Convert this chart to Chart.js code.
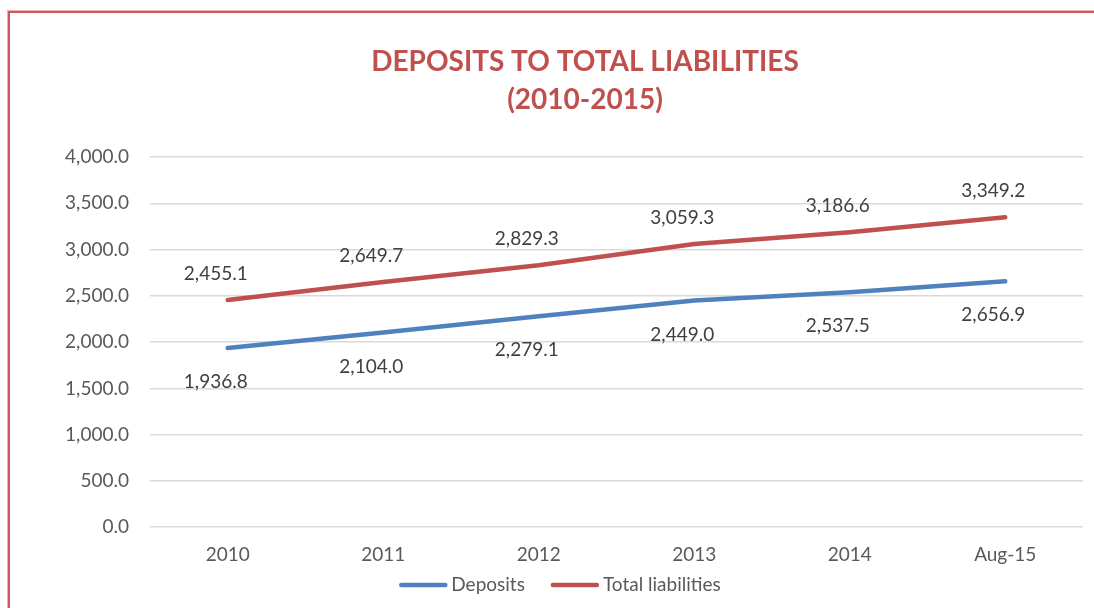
<!DOCTYPE html>
<html lang="en">
<head>
  <meta charset="UTF-8">
  <title>Deposits to Total Liabilities</title>
  <script src="https://cdn.jsdelivr.net/npm/chart.js"></script>
  <style>
    html, body {
      margin: 0;
      padding: 0;
      background: #ffffff;
      overflow: hidden;
    }

    .frame {
      position: absolute;
      left: 8px;
      top: 11px;
      width: 1200px;
      height: 700px;
      border-left: 2px solid #d0585a;
      border-top: 2px solid #d0585a;
      box-shadow: -1px -1px 0 #f0b0b0;
    }

    .wrap {
      position: absolute;
      left: 0;
      top: 0;
      width: 1094px;
      height: 608px;
    }
  </style>
</head>
<body>
  <div class="frame"></div>
  <div class="wrap">
    <canvas id="depositsChart" width="1094" height="608"></canvas>
  </div>

  <script>
    const years = ['2010', '2011', '2012', '2013', '2014', 'Aug-15'];
    const deposits = [1936.8, 2104.0, 2279.1, 2449.0, 2537.5, 2656.9];
    const totalLiabilities = [2455.1, 2649.7, 2829.3, 3059.3, 3186.6, 3349.2];
    const titleLines = ['DEPOSITS TO TOTAL LIABILITIES', '(2010-2015)'];

    const fmt = v => v.toLocaleString('en-US', { minimumFractionDigits: 1, maximumFractionDigits: 1 });

    // two-line heading, sits a bit left of the canvas centre
    const heading = {
      id: 'heading',
      afterDraw(chart) {
        const ctx = chart.ctx;
        ctx.save();
        ctx.font = 'bold 28px Lato';
        ctx.fillStyle = '#c0504d';
        ctx.textAlign = 'center';
        ctx.textBaseline = 'middle';
        titleLines.forEach((t, i) => ctx.fillText(t, 585, 62 + i * 38));
        ctx.restore();
      }
    };

    // legend row under the axis: short thick line + series name
    const lineLegend = {
      id: 'lineLegend',
      afterDraw(chart) {
        const ctx = chart.ctx;
        const sample = 48, gapText = 4, gapItem = 26, y = 585;
        ctx.save();
        ctx.font = '19px Lato';
        ctx.textBaseline = 'middle';
        const items = chart.data.datasets.map(ds => ({
          ds, w: ctx.measureText(ds.label).width
        }));
        const total = items.reduce((s, it) => s + sample + gapText + it.w, 0) + gapItem * (items.length - 1);
        let x = 560 - total / 2;
        items.forEach(({ ds, w }) => {
          ctx.strokeStyle = ds.borderColor;
          ctx.lineWidth = 4.5;
          ctx.lineCap = 'round';
          ctx.beginPath();
          ctx.moveTo(x + 2, y);
          ctx.lineTo(x + sample - 2, y);
          ctx.stroke();
          ctx.fillStyle = '#595959';
          ctx.fillText(ds.label, x + sample + gapText, y);
          x += sample + gapText + w + gapItem;
        });
        ctx.restore();
      }
    };

    // value labels: deposits below the line, liabilities above
    const pointLabels = {
      id: 'pointLabels',
      afterDatasetsDraw(chart) {
        const ctx = chart.ctx;
        ctx.save();
        ctx.font = '19px Lato';
        ctx.fillStyle = '#404040';
        ctx.textAlign = 'center';
        ctx.textBaseline = 'middle';
        chart.data.datasets.forEach((ds, i) => {
          const meta = chart.getDatasetMeta(i);
          meta.data.forEach((pt, j) => {
            ctx.fillText(fmt(ds.data[j]), pt.x - 12, pt.y + ds.labelOffset);
          });
        });
        ctx.restore();
      }
    };

    const ctx = document.getElementById('depositsChart').getContext('2d');
    new Chart(ctx, {
      type: 'line',
      data: {
        labels: years,
        datasets: [
          {
            label: 'Deposits',
            data: deposits,
            borderColor: '#4f81bd',
            backgroundColor: '#4f81bd',
            borderWidth: 4.5,
            borderCapStyle: 'round',
            pointRadius: 0,
            labelOffset: 34
          },
          {
            label: 'Total liabilities',
            data: totalLiabilities,
            borderColor: '#c0504d',
            backgroundColor: '#c0504d',
            borderWidth: 4.5,
            borderCapStyle: 'round',
            pointRadius: 0,
            labelOffset: -26
          }
        ]
      },
      options: {
        responsive: false,
        animation: false,
        layout: {
          padding: { left: 10, right: 11, top: 157, bottom: 34 }
        },
        plugins: {
          title: { display: false },
          legend: { display: false },
          tooltip: { enabled: false }
        },
        scales: {
          x: {
            offset: true,
            grid: { display: false },
            border: { display: false },
            ticks: {
              color: '#595959',
              font: { family: 'Lato', size: 19 },
              padding: 8
            }
          },
          y: {
            min: 0,
            max: 4000,
            afterFit: scale => { scale.width = 140; },
            grid: { color: '#d9d9d9', lineWidth: 1.5, drawTicks: false },
            border: { display: false },
            ticks: {
              stepSize: 500,
              color: '#595959',
              font: { family: 'Lato', size: 19 },
              padding: 21,
              callback: v => fmt(v)
            }
          }
        }
      },
      plugins: [pointLabels, heading, lineLegend]
    });
  </script>
</body>
</html>
